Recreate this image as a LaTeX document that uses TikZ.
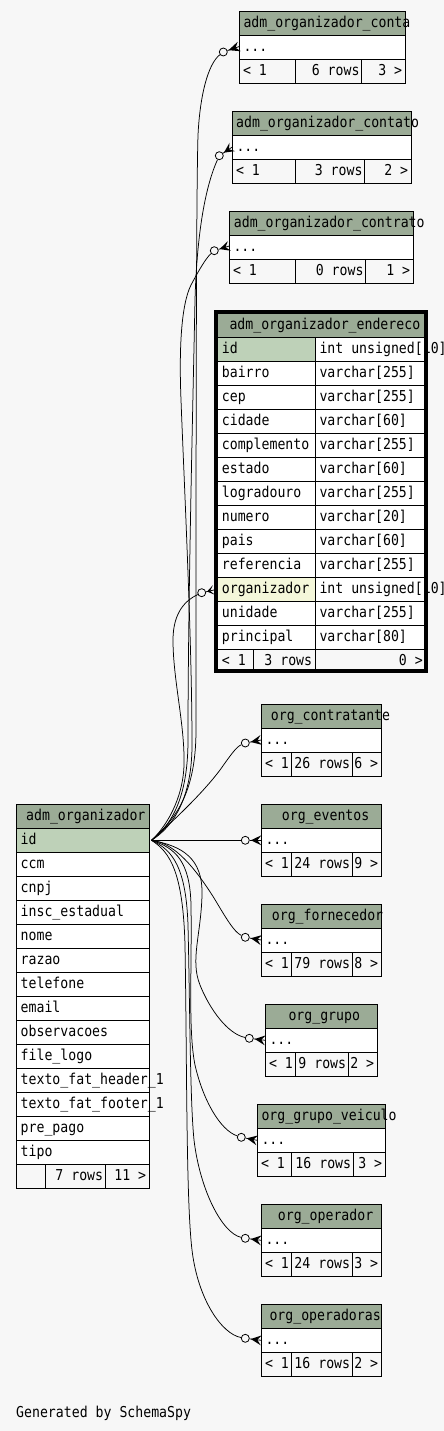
\documentclass[tikz,border=0pt]{standalone}
\usepackage{fontspec}
\newfontfamily\schemamono[FakeStretch=0.88]{DejaVu Sans Mono}
\usetikzlibrary{calc}
\definecolor{bgc}{HTML}{F7F7F7}
\definecolor{hdr}{HTML}{9BAB96}
\definecolor{pkc}{HTML}{BED1B8}
\definecolor{idxc}{HTML}{F4F7DA}
\tikzset{
  txt/.style={font=\schemamono\fontsize{15}{15}\selectfont, inner sep=0pt, text=black},
  lt/.style={txt, anchor=base west},
  rt/.style={txt, anchor=base east},
  grid/.style={draw=black, line width=1pt},
  rel/.style={draw=black, line width=0.75pt},
  odot/.style={circle, draw=black, fill=bgc, line width=0.8pt, minimum size=8pt, inner sep=0pt},
}
% id L R T s1 s2 hx title
\newcommand\smallbox[8]{%
  \filldraw[grid, fill=hdr] (#2,#4) rectangle (#3,#4+24);
  \filldraw[grid, fill=white] (#2,#4+24) rectangle (#3,#4+48);
  \filldraw[grid, fill=bgc] (#2,#4+48) rectangle (#5,#4+72);
  \filldraw[grid, fill=bgc] (#5,#4+48) rectangle (#6,#4+72);
  \filldraw[grid, fill=bgc] (#6,#4+48) rectangle (#3,#4+72);
  \node[lt] (#1-title) at (#7,#4+16.5) {#8};
  \node[lt] (#1-dots) at (#2+4,#4+40.5) {...};
  \node[lt] (#1-first) at (#2+3.5,#4+64.5) {< 1};
}
% id T s2 R rows right
\newcommand\smallfoot[6]{%
  \node[rt] (#1-rows) at (#3-2,#2+64.5) {#5};
  \node[rt] (#1-last) at (#4-3,#2+64.5) {#6};
}
\newcommand\crowfoot[2]{%
  \draw[rel] (#1) -- (#2);
  \fill ($(#1)!5.5pt!(#2)$) -- ($(#2)!5pt!90:(#1)$) -- ($(#2)!4pt!(#1)$) -- ($(#2)!5pt!-90:(#1)$) -- cycle;
}
\begin{document}
\begin{tikzpicture}[x=1pt,y=-1pt]
\fill[bgc] (0,0) rectangle (444,1431);
\useasboundingbox (0,0) rectangle (444,1431);

% ---------- connectors ----------
\coordinate (P) at (151.5,840.3);
\node[odot] (c-conta) at (223.3,52) {};
\node[odot] (c-contato) at (219.3,155.7) {};
\node[odot] (c-contrato) at (214.3,250.7) {};
\node[odot] (c-end) at (201.7,592.7) {};
\node[odot] (c-contratante) at (245.3,743) {};
\node[odot] (c-eventos) at (245.3,840.3) {};
\node[odot] (c-fornecedor) at (245.3,937.3) {};
\node[odot] (c-grupo) at (249.3,1038.3) {};
\node[odot] (c-gv) at (241.3,1137.3) {};
\node[odot] (c-op) at (245.3,1238.3) {};
\node[odot] (c-ops) at (245.3,1338.3) {};

\coordinate (e-conta) at (239.3,46.5);
\coordinate (e-contato) at (232.3,147);
\coordinate (e-contrato) at (229.3,246);
\coordinate (e-end) at (214,590);
\coordinate (e-contratante) at (261.3,740);
\coordinate (e-eventos) at (261.3,840.3);
\coordinate (e-fornecedor) at (261.3,940);
\coordinate (e-grupo) at (265.3,1040.3);
\coordinate (e-gv) at (257.3,1140.3);
\coordinate (e-op) at (261.3,1240.3);
\coordinate (e-ops) at (261.3,1340.3);

\draw[rel] (P) -- (c-eventos);
\draw[rel] (P) .. controls (180,815) and (205,790) .. (220,770) .. controls (230,756) and (236,747) .. (c-contratante);
\draw[rel] (P) .. controls (175,843) and (195,868) .. (214,898) .. controls (226,918) and (234,932) .. (c-fornecedor);
\draw[rel] (P) .. controls (182,846) and (203,858) .. (202,895) .. controls (201,935) and (190,960) .. (200,985) .. controls (210,1010) and (228,1034) .. (c-grupo);
\draw[rel] (P) .. controls (176,848) and (190,862) .. (191,905) .. controls (192,970) and (188,1030) .. (195,1065) .. controls (203,1100) and (220,1130) .. (c-gv);
\draw[rel] (P) .. controls (173,850) and (186,868) .. (188,925) .. controls (190,1010) and (190,1100) .. (194,1140) .. controls (200,1190) and (222,1233) .. (c-op);
\draw[rel] (P) .. controls (170,852) and (183,872) .. (185,945) .. controls (187,1060) and (186,1200) .. (192,1250) .. controls (198,1300) and (222,1334) .. (c-ops);
\draw[rel] (P) .. controls (165,828) and (183,800) .. (184,765) .. controls (185,725) and (173,680) .. (173,640) .. controls (173,612) and (186,600) .. (c-end);
\draw[rel] (P) .. controls (174,820) and (196,795) .. (196,730) .. controls (196,500) and (196,200) .. (198,135) .. controls (200,95) and (208,64) .. (c-conta);
\draw[rel] (P) .. controls (170,826) and (188,800) .. (188,740) .. controls (188,600) and (193,400) .. (195,300) .. controls (197,230) and (206,185) .. (c-contato);
\draw[rel] (P) .. controls (168,830) and (192,805) .. (192,745) .. controls (192,640) and (184,480) .. (181,400) .. controls (179,350) and (181,305) .. (191,285) .. controls (199,270) and (206,258) .. (c-contrato);

% ---------- collapsed tables ----------
\smallbox{conta}{239.3}{405.3}{11.3}{295.3}{361.7}{243.3}{adm\_organizador\_conta}
\smallfoot{conta}{11.3}{361.7}{405.3}{6 rows}{3 >}
\smallbox{contato}{232.3}{411.3}{111.3}{295.3}{364.7}{236}{adm\_organizador\_contato}
\smallfoot{contato}{111.3}{364.7}{411.3}{3 rows}{2 >}
\smallbox{contrato}{229.3}{413.3}{211.3}{295.3}{365.7}{233.7}{adm\_organizador\_contrato}
\smallfoot{contrato}{211.3}{365.7}{413.3}{0 rows}{1 >}
\smallbox{contratante}{261.3}{381.3}{704.3}{291.3}{352.3}{270.7}{org\_contratante}
\smallfoot{contratante}{704.3}{352.3}{381.3}{26 rows}{6 >}
\smallbox{eventos}{261.3}{381.3}{804.3}{291.3}{352.3}{281.7}{org\_eventos}
\smallfoot{eventos}{804.3}{352.3}{381.3}{24 rows}{9 >}
\smallbox{fornecedor}{261.3}{381.3}{904.3}{291.3}{352.3}{271.7}{org\_fornecedor}
\smallfoot{fornecedor}{904.3}{352.3}{381.3}{79 rows}{8 >}
\smallbox{grupo}{265.3}{377.3}{1004.3}{295.3}{348.3}{288.3}{org\_grupo}
\smallfoot{grupo}{1004.3}{348.3}{377.3}{9 rows}{2 >}
\smallbox{gv}{257.3}{385.3}{1104.3}{291.3}{353.3}{261.3}{org\_grupo\_veiculo}
\smallfoot{gv}{1104.3}{353.3}{385.3}{16 rows}{3 >}
\smallbox{op}{261.3}{381.3}{1204.3}{291.3}{352.3}{277.7}{org\_operador}
\smallfoot{op}{1204.3}{352.3}{381.3}{24 rows}{3 >}
\smallbox{ops}{261.3}{381.3}{1304.3}{291.3}{352.3}{269.3}{org\_operadoras}
\smallfoot{ops}{1304.3}{352.3}{381.3}{16 rows}{2 >}

% ---------- adm_organizador ----------
\filldraw[grid, fill=hdr] (16,804.3) rectangle (149.3,828.3);
\node[lt] (ao-title) at (26,820.8) {adm\_organizador};
\foreach \n/\c [count=\i from 0] in {id/pkc,ccm/white,cnpj/white,insc\_estadual/white,nome/white,razao/white,telefone/white,email/white,observacoes/white,file\_logo/white,texto\_fat\_header\_1/white,texto\_fat\_footer\_1/white,pre\_pago/white,tipo/white}{
  \filldraw[grid, fill=\c] (16,828.3+24*\i) rectangle (149.3,852.3+24*\i);
}
\foreach \n/\c [count=\i from 0] in {id/pkc,ccm/white,cnpj/white,insc\_estadual/white,nome/white,razao/white,telefone/white,email/white,observacoes/white,file\_logo/white,texto\_fat\_header\_1/white,texto\_fat\_footer\_1/white,pre\_pago/white,tipo/white}{
  \node[lt] (ao-\i) at (20.5,844.8+24*\i) {\n};
}
\filldraw[grid, fill=bgc] (16,1164.3) rectangle (45.3,1188.3);
\filldraw[grid, fill=bgc] (45.3,1164.3) rectangle (105.3,1188.3);
\filldraw[grid, fill=bgc] (105.3,1164.3) rectangle (149.3,1188.3);
\node[rt] (ao-rows) at (103.3,1180.8) {7 rows};
\node[rt] (ao-last) at (146.3,1180.8) {11 >};

% ---------- adm_organizador_endereco ----------
\filldraw[grid, fill=hdr] (216,312) rectangle (426,337.3);
\node[lt] (en-title) at (229.3,329.5) {adm\_organizador\_endereco};
\foreach \n/\t/\c [count=\i from 0] in {id/{int unsigned[10]}/pkc,bairro/{varchar[255]}/white,cep/{varchar[255]}/white,cidade/{varchar[60]}/white,complemento/{varchar[255]}/white,estado/{varchar[60]}/white,logradouro/{varchar[255]}/white,numero/{varchar[20]}/white,pais/{varchar[60]}/white,referencia/{varchar[255]}/white,organizador/{int unsigned[10]}/idxc,unidade/{varchar[255]}/white,principal/{varchar[80]}/white}{
  \filldraw[grid, fill=\c] (216,337.3+24*\i) rectangle (315.3,361.3+24*\i);
  \filldraw[grid, fill=white] (315.3,337.3+24*\i) rectangle (426,361.3+24*\i);
}
\foreach \n/\t/\c [count=\i from 0] in {id/{int unsigned[10]}/pkc,bairro/{varchar[255]}/white,cep/{varchar[255]}/white,cidade/{varchar[60]}/white,complemento/{varchar[255]}/white,estado/{varchar[60]}/white,logradouro/{varchar[255]}/white,numero/{varchar[20]}/white,pais/{varchar[60]}/white,referencia/{varchar[255]}/white,organizador/{int unsigned[10]}/idxc,unidade/{varchar[255]}/white,principal/{varchar[80]}/white}{
  \node[lt] (en-n\i) at (221.7,353.8+24*\i) {\n};
  \node[lt] (en-t\i) at (319.3,353.8+24*\i) {\t};
}
\filldraw[grid, fill=bgc] (216,649.3) rectangle (253.3,671.3);
\filldraw[grid, fill=bgc] (253.3,649.3) rectangle (315.3,671.3);
\filldraw[grid, fill=bgc] (315.3,649.3) rectangle (426,671.3);
\node[lt] (en-first) at (221.7,665.5) {< 1};
\node[rt] (en-rows) at (312.3,665.5) {3 rows};
\node[rt] (en-last) at (423,665.5) {0 >};
\draw[line width=4pt] (216,312) rectangle (426,671.3);

% ---------- crow feet ----------
\crowfoot{c-conta}{e-conta}
\crowfoot{c-contato}{e-contato}
\crowfoot{c-contrato}{e-contrato}
\crowfoot{c-end}{e-end}
\crowfoot{c-contratante}{e-contratante}
\crowfoot{c-eventos}{e-eventos}
\crowfoot{c-fornecedor}{e-fornecedor}
\crowfoot{c-grupo}{e-grupo}
\crowfoot{c-gv}{e-gv}
\crowfoot{c-op}{e-op}
\crowfoot{c-ops}{e-ops}

\node[lt] (gen) at (16,1417.5) {Generated by SchemaSpy};
\end{tikzpicture}
\end{document}
